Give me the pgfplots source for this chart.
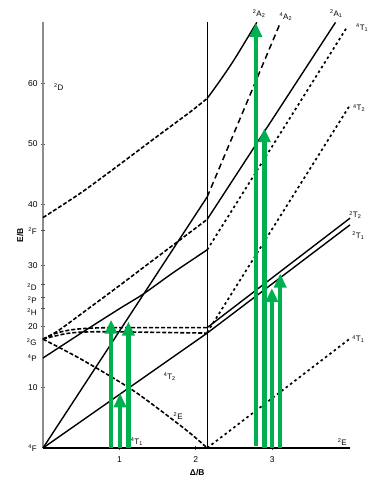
\documentclass[border=0pt]{standalone}
\usepackage{fontspec}
\setmainfont{Liberation Sans}
\usepackage{pgfplots}
\pgfplotsset{compat=1.18}
\usetikzlibrary{arrows.meta}
\definecolor{grn}{RGB}{0,176,80}
\newcommand\lab{\fontsize{8}{9}\selectfont}
\newcommand\sps[1]{\textsuperscript{\fontsize{5.5}{6}\selectfont #1}}
\newcommand\sbs[1]{\textsubscript{\fontsize{5.5}{6}\selectfont #1}}
\begin{document}
\begin{tikzpicture}
\path[use as bounding box] (-43bp,-36bp) rectangle (333bp,448bp);
\begin{axis}[
 scale only axis, width=307bp, height=425.6bp,
 xmin=0, xmax=4.02, ymin=0, ymax=70,
 axis x line=bottom, axis y line=left,
 x axis line style={-, black, line width=1.3bp},
 y axis line style={-, black!45, line width=2bp},
 xtick={1,2,3}, ytick={10,20,...,60},
 extra y ticks={23,24.8,27,35.8}, extra y tick labels={,,,},
 tick align=center, major tick length=4bp,
 tick style={black!70, line width=0.6bp},
 tick label style={font=\fontsize{8.5}{10}\selectfont},
 xticklabel style={yshift=-3bp},
 /pgf/number format/assume math mode=true,
 clip=false,
 solidl/.style={black, line width=1.4bp},
 dashl/.style={black, line width=1.6bp, dash pattern=on 4bp off 2bp},
 dashr/.style={black, line width=1.5bp, dash pattern=on 6bp off 4bp},
 dotr/.style={black, line width=1.7bp, dash pattern=on 2.5bp off 3bp},
 arr/.style={grn, line width=4.5bp, -{Triangle[width=12bp,length=14bp]}},
]
% vertical crossover line
\addplot[black, line width=0.9bp] coordinates {(2.15,0) (2.15,70)};
% ---- left side (high spin) ----
\addplot[dashl, smooth] coordinates {(0,37.9) (0.5,42.0) (1.0,46.6) (1.5,51.3) (1.93,55.3) (2.15,57.5)};
\addplot[dashl, smooth] coordinates {(0,17.9) (0.2,19.3) (0.57,22.7) (1.0,26.7) (1.4,30.5) (2.15,37.6)};
\addplot[solidl, smooth] coordinates {(0,14.8) (0.5,18.9) (1.0,22.9) (1.31,25.3) (1.7,28.8) (2.15,32.6)};
\addplot[solidl] coordinates {(0,0) (2.15,41.3)};
\addplot[solidl] coordinates {(0,0) (2.15,18.9)};
\addplot[dashl, smooth] coordinates {(0,17.9) (0.5,14.6) (1.14,9.8) (1.6,5.6) (1.93,2.4) (2.15,0)};
\addplot[dashl, smooth] coordinates {(0,17.9) (0.15,18.8) (0.35,19.4) (0.6,19.7) (1.0,19.8) (2.15,19.8)};
\addplot[dashl, smooth] coordinates {(0,17.9) (0.15,18.4) (0.35,18.9) (0.6,19.1) (1.0,19.1) (2.15,18.9)};
% ---- right side (low spin) ----
\addplot[solidl, smooth] coordinates {(2.15,57.5) (2.3,60.1) (2.5,63.8) (2.80,70)};
\addplot[dashr] coordinates {(2.15,41.3) (3.11,70)};
\addplot[solidl] coordinates {(2.15,37.6) (3.83,70)};
\addplot[dotr] coordinates {(2.15,32.6) (3.98,69.2)};
\addplot[dotr] coordinates {(2.15,19.0) (4.02,56.4)};
\addplot[solidl] coordinates {(2.15,19.8) (4.02,37.8)};
\addplot[solidl] coordinates {(2.15,18.9) (4.02,36.7)};
\addplot[dotr] coordinates {(2.15,0) (4.02,18.0)};
% ---- transitions ----
\addplot[arr] coordinates {(0.891,0) (0.891,21.1)};
\addplot[arr] coordinates {(1.118,0) (1.118,20.8)};
\addplot[arr] coordinates {(1.009,0) (1.009,9.0)};
\addplot[arr] coordinates {(2.788,0.4) (2.788,69.9)};
\addplot[arr] coordinates {(2.900,0) (2.900,52.6)};
\addplot[arr] coordinates {(2.997,0) (2.997,26.3)};
\addplot[arr] coordinates {(3.106,0) (3.106,28.7)};
% ---- term labels, free ion ----
\node[font=\lab, anchor=west] at (axis cs:0.10,59.4) {\sps{2}D};
\node[font=\lab, anchor=east, inner sep=0] at (axis cs:-0.08,35.7) {\sps{2}F};
\node[font=\lab, anchor=east, inner sep=0] at (axis cs:-0.08,26.5) {\sps{2}D};
\node[font=\lab, anchor=east, inner sep=0] at (axis cs:-0.08,24.3) {\sps{2}P};
\node[font=\lab, anchor=east, inner sep=0] at (axis cs:-0.08,22.4) {\sps{2}H};
\node[font=\lab, anchor=east, inner sep=0] at (axis cs:-0.08,17.4) {\sps{2}G};
\node[font=\lab, anchor=east, inner sep=0] at (axis cs:-0.08,14.8) {\sps{4}P};
\node[font=\lab, anchor=east, inner sep=0] at (axis cs:-0.08,0) {\sps{4}F};
% ---- state labels ----
\node[font=\lab] at (axis cs:2.83,71.4) {\sps{2}A\sbs{2}};
\node[font=\lab] at (axis cs:3.18,70.9) {\sps{4}A\sbs{2}};
\node[font=\lab] at (axis cs:3.84,71.4) {\sps{2}A\sbs{1}};
\node[font=\lab] at (axis cs:4.18,69.1) {\sps{4}T\sbs{1}};
\node[font=\lab] at (axis cs:4.14,55.9) {\sps{4}T\sbs{2}};
\node[font=\lab] at (axis cs:4.09,38.3) {\sps{2}T\sbs{2}};
\node[font=\lab] at (axis cs:4.13,34.9) {\sps{2}T\sbs{1}};
\node[font=\lab] at (axis cs:4.13,17.9) {\sps{4}T\sbs{1}};
\node[font=\lab] at (axis cs:3.92,1.0) {\sps{2}E};
\node[font=\lab] at (axis cs:1.66,11.7) {\sps{4}T\sbs{2}};
\node[font=\lab] at (axis cs:1.77,5.3) {\sps{2}E};
\node[font=\lab] at (axis cs:1.23,1.0) {\sps{4}T\sbs{1}};
% ---- axis titles ----
\node[font=\fontsize{8.5}{10}\selectfont\bfseries, rotate=90] at (axis cs:-0.30,35) {E/B};
\node[font=\fontsize{8.5}{10}\selectfont\bfseries] at (axis cs:2.02,-4.1) {Δ/B};
\end{axis}
\end{tikzpicture}
\end{document}
